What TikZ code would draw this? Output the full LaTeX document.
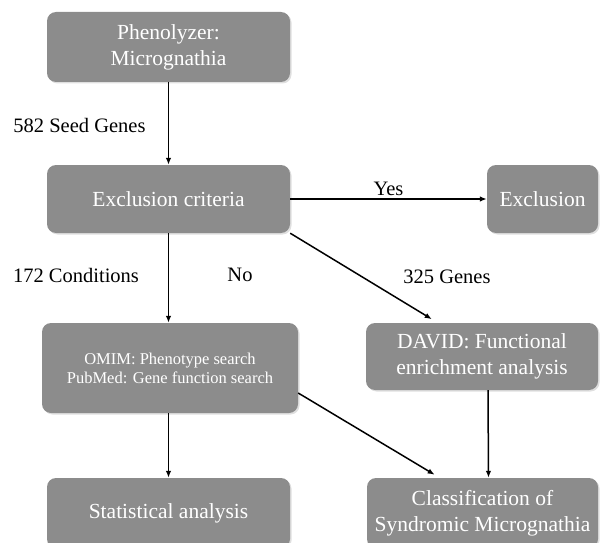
\documentclass[tikz,border=0pt]{standalone}
\usepackage{fontspec}
\setmainfont{Liberation Serif}
\usetikzlibrary{arrows.meta,positioning,shadows}
\definecolor{boxgray}{RGB}{140,140,140}

\begin{document}
\begin{tikzpicture}[x=1pt,y=-1pt,
    box/.style={fill=boxgray,rounded corners=9pt,text=white,align=center,inner sep=0pt,
        font=\fontsize{21.5}{26}\selectfont,
        drop shadow={opacity=0.25,shadow xshift=1.5pt,shadow yshift=-1.5pt}},
    lbl/.style={font=\fontsize{20.5}{24}\selectfont},
    arr/.style={-{Latex[length=7pt,width=5.5pt]},line width=1.5pt}]
    \useasboundingbox (0,0) rectangle (600,543);

    \node[box,minimum width=243pt,minimum height=70pt] (pheno) at (168.5,47) {Phenolyzer:\\Micrognathia};
    \node[box,minimum width=243pt,minimum height=68pt] (excl) at (168.5,199) {Exclusion criteria};
    \node[box,minimum width=111pt,minimum height=68pt] (exclu) at (542.5,199) {Exclusion};
    \node[box,minimum width=256pt,minimum height=90pt,font=\fontsize{16.5}{19}\selectfont] (search) at (170,368)
        {OMIM: Phenotype search\\PubMed: Gene function search};
    \node[box,minimum width=232pt,minimum height=67pt] (david) at (482,356.5) {DAVID: Functional\\enrichment analysis};
    \node[box,minimum width=243pt,minimum height=70pt] (stat) at (168.5,513) {Statistical analysis};
    \node[box,minimum width=231pt,minimum height=70pt] (class) at (482.5,513) {Classification of\\Syndromic Micrognathia};

    \node[lbl] (seed) at (79.5,125) {582 Seed Genes};
    \node[lbl] (cond) at (76,275) {172 Conditions};
    \node[lbl] (no) at (240,275) {No};
    \node[lbl] (genes) at (447,277) {325 Genes};

    \draw[arr] (pheno) -- (excl);
    \draw[arr] (excl) -- node[lbl,above=3pt,inner sep=0pt] (yes) {Yes} (exclu);
    \draw[arr,shorten >=7pt] (excl.south east) -- ([xshift=72pt]david.north west);
    \draw[arr] (excl.south) -- (excl.south |- search.north);
    \draw[arr] (search.south -| stat) -- (stat);
    \draw[arr,shorten >=6pt] ([yshift=-25pt]search.east) -- ([xshift=73pt]class.north west);
    \draw[arr] ([xshift=6pt]david.south) -- ([xshift=6pt]class.north);
\end{tikzpicture}
\end{document}
